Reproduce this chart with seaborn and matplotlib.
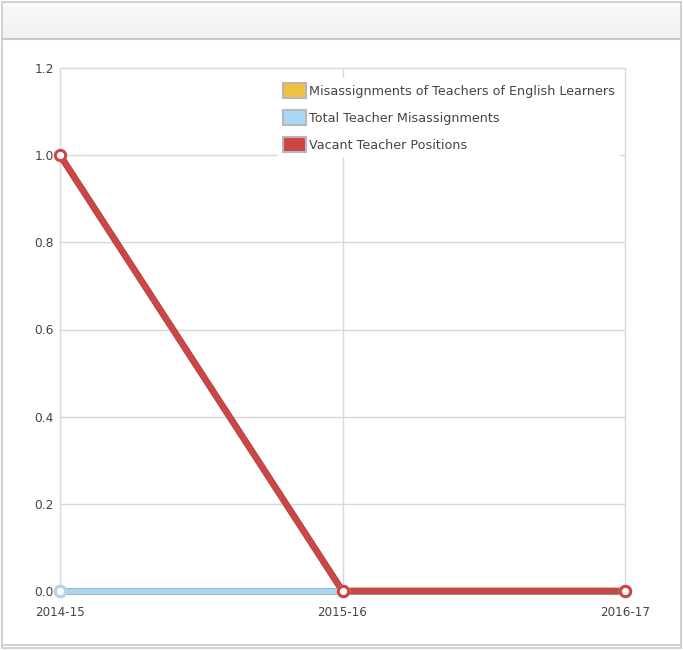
import numpy as np
import matplotlib
matplotlib.use("Agg")
import matplotlib.pyplot as plt
import matplotlib.patheffects as pe
from matplotlib.patches import Patch, Rectangle
import seaborn as sns
import pandas as pd

# data
years = ["2014-15", "2015-16", "2016-17"]
el_misassign = [0, 0, 0]
total_misassign = [0, 0, 0]
vacant = [1, 0, 0]

series = ["Misassignments of Teachers of English Learners",
          "Total Teacher Misassignments",
          "Vacant Teacher Positions"]
colors = ["#f0c040", "#acd6f5", "#cc4646"]
edges = ["#c09a30", "#93b3cc", "#a84040"]

data = pd.DataFrame({
    "year": years * 3,
    "value": el_misassign + total_misassign + vacant,
    "series": [series[0]] * 3 + [series[1]] * 3 + [series[2]] * 3,
})

sns.set_style("white")
plt.rcParams['font.family'] = ['DejaVu Sans']

fig = plt.figure(figsize=(6.83, 6.5), dpi=100)

# panel frame + header
fig.patches.append(Rectangle((2 / 683, 2 / 650), 679 / 683, 646 / 650, transform=fig.transFigure,
                             facecolor="white", edgecolor="#c8c8c8", lw=1.2, zorder=-10))
grad = np.linspace(0.98, 0.945, 50).reshape(-1, 1)
hax = fig.add_axes([3 / 683, 1 - 38 / 650, 677 / 683, 35 / 650])
hax.imshow(np.dstack([grad, grad, grad]), aspect="auto", extent=[0, 1, 0, 1])
hax.set_axis_off()
fig.add_artist(plt.Line2D([3 / 683, 680 / 683], [1 - 38.5 / 650] * 2, transform=fig.transFigure,
                          color="#c8c8c8", lw=1.5))
fig.add_artist(plt.Line2D([3 / 683, 680 / 683], [1 - 645 / 650] * 2, transform=fig.transFigure,
                          color="#c8c8c8", lw=1.2))

ax = fig.add_axes([60 / 683, 1 - 591 / 650, 565 / 683, 523 / 650])
ax.patch.set_alpha(0)

# lines
sns.lineplot(data=data, x="year", y="value", hue="series", palette=colors,
             sort=False, lw=3.8, legend=False, ax=ax)
for line, ec in zip(ax.lines, edges):
    line.set_path_effects([pe.Stroke(linewidth=4.8, foreground=ec), pe.Normal()])
    line.set_clip_on(False)
    line.set_solid_capstyle("butt")

# points, white with coloured ring
for name, c in zip(series, colors):
    sub = data[data["series"] == name]
    sns.scatterplot(x=np.arange(len(years)), y=sub["value"].values, ax=ax, s=55,
                    facecolor="white", edgecolor=c, linewidth=2.2, zorder=5,
                    clip_on=False, legend=False)

ax.set_xlim(0, 2)
ax.set_ylim(0, 1.2)
ax.set_yticks(np.arange(0, 1.21, 0.2))
ax.set_yticklabels([f"{v:.1f}" for v in np.arange(0, 1.21, 0.2)])
ax.set_xticks(range(len(years)))
ax.set_xticklabels(years)
ax.grid(True, color="#d8d8d8", lw=1)
for gl in ax.get_xgridlines() + ax.get_ygridlines():
    gl.set_clip_on(False)
for s in ax.spines.values():
    s.set_visible(False)
ax.tick_params(axis="y", length=0, labelsize=8.8, labelcolor="#444444", pad=4.5)
ax.tick_params(axis="x", length=0, labelsize=8.6, labelcolor="#444444", pad=10.5)
ax.set_xlabel("")
ax.set_ylabel("")

handles = [Patch(facecolor=c, edgecolor="#b8b8b8", lw=1.5) for c in colors]
leg = ax.legend(handles, series, loc="upper right", bbox_to_anchor=(0.99, 0.98),
                frameon=True, fancybox=False, fontsize=9.2, handlelength=1.8,
                handleheight=1.4, handletextpad=0.25, labelspacing=0.97,
                borderpad=0.35, borderaxespad=0.0, labelcolor="#444444")
leg.get_frame().set_edgecolor("white")
leg.get_frame().set_facecolor("white")
leg.get_frame().set_alpha(1)

fig.savefig("out.png", dpi=100)
